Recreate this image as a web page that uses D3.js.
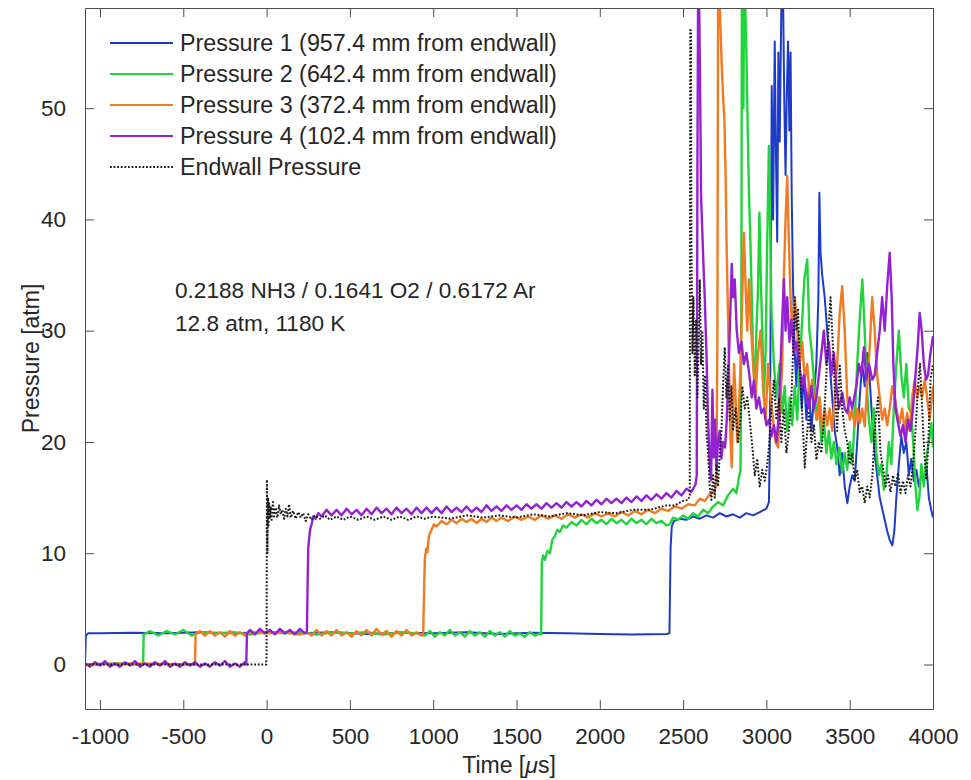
<!DOCTYPE html>
<html>
<head>
<meta charset="utf-8">
<script src="https://cdn.jsdelivr.net/npm/d3@7"></script>
<style>
  body { margin: 0; background: #fff; }
  text { font-family: "Liberation Sans", Arial, sans-serif; fill: #262626; }
</style>
</head>
<body>
<div id="chart"></div>
<script>
// [time in microseconds, pressure in atm]
var p1 = [[-1090,0],[-1085,2.6],[-1070,2.8],[-1000,2.8],[-800,2.85],[-600,2.8],[-400,2.9],[-200,2.8],[0,2.9],[200,2.8],[400,2.9],[600,2.75],[800,2.85],[1000,2.8],[1200,2.9],[1400,2.75],[1600,2.85],[1800,2.8],[2000,2.75],[2200,2.7],[2400,2.75],[2418,2.8],
  [2425,10.5],[2432,12.4],[2445,12.9],[2480,13.1],[2520,13.0],[2560,13.3],[2600,13.1],[2640,13.4],[2680,13.2],[2720,13.6],[2760,13.3],[2800,13.5],[2840,13.2],[2880,13.6],[2920,13.4],[2960,13.7],[3000,14.0],[3015,14.6],
  [3020,19],[3025,30],[3032,52],[3040,40],[3050,56],[3058,45],[3065,38],[3072,55],[3080,47],[3090,59.5],[3100,60],[3108,50],[3115,44],[3122,51],[3130,56],[3138,48],[3145,55],[3152,42],[3160,34],[3170,28],[3180,25],[3190,30],[3200,27],[3212,23],[3225,26],[3240,22],[3255,25],[3270,21],[3285,24],
  [3300,27],[3312,33],[3318,42.4],[3325,37],[3335,35],[3350,33],[3365,30],[3380,27],[3395,24],[3410,21],[3425,19.5],[3440,17],[3455,19],[3470,16],[3486,14.5],[3500,16],[3515,17],[3530,16.5],[3545,20],[3560,24],[3575,27],[3590,25],[3605,28],[3620,25.6],[3635,22],[3650,19],[3665,17],[3680,15],[3695,14],[3710,13],[3725,12],[3740,11.2],[3756,10.7],[3768,12],[3780,15],[3795,18],[3810,20.5],[3825,19],[3840,20],[3855,17],[3870,18.5],[3885,16.5],[3900,17.5],[3915,16],[3930,17],[3945,16.5],[3960,18],[3975,15],[3988,14],[4000,13.2]];

var p2 = [[-1090,0],[-900,0.1],[-741,0],[-738,2.7],[-700,3.0],[-650,2.6],[-600,3.0],[-550,2.7],[-500,3.1],[-450,2.6],[-400,2.9],[-300,2.8],[-200,2.9],[-100,2.7],[0,2.9],[100,2.8],[200,2.9],[300,2.7],[400,2.9],[500,2.8],[600,2.9],[700,2.7],[800,2.9],[900,2.8],
  [950,2.6],[980,3.0],[1010,2.5],[1040,2.9],[1070,2.6],[1100,3.1],[1130,2.6],[1160,2.9],[1190,2.5],[1220,3.0],[1250,2.6],[1280,2.9],[1310,2.5],[1340,3.0],[1370,2.6],[1400,2.9],[1430,2.5],[1460,3.0],[1490,2.6],[1520,2.8],[1550,2.5],[1580,2.9],[1610,2.6],[1640,2.8],[1648,2.7],
  [1652,9.2],[1660,9.8],[1670,9.4],[1685,10.2],[1700,10.0],[1715,11.2],[1730,11.5],[1745,12.1],[1760,11.9],[1780,12.5],[1800,12.3],[1830,12.8],[1860,12.5],[1890,13.0],[1920,12.6],[1950,13.1],[1980,12.7],[2010,13.0],[2040,12.6],[2070,13.1],[2100,12.7],[2130,13.0],[2160,12.6],[2190,13.1],[2220,12.7],[2250,13.0],[2280,12.6],[2310,13.1],[2340,12.7],[2370,12.9],[2400,12.5],[2420,12.6],[2440,13.2],[2470,13.0],[2500,13.4],[2530,13.1],[2560,13.6],[2590,13.3],[2620,13.9],[2650,13.6],[2680,14.2],[2710,14.6],[2740,14.3],[2770,15.2],[2800,15.8],[2820,15.4],[2835,16.8],[2845,17.5],
  [2850,35],[2853,60],[2858,60],[2862,50],[2866,60],[2872,60],[2880,55],[2888,48],[2896,42],[2904,38],[2912,33],[2920,28],[2930,24],[2940,30],[2950,34],[2958,40.6],[2966,35],[2975,30],[2985,24],[2995,28],[3005,38],[3015,46.6],[3022,40],[3030,32],[3045,27],[3060,24],[3078,27],[3095,22.6],[3110,25],[3125,21],[3140,24],[3155,21.5],[3170,25],[3185,22],[3200,27],[3215,31],[3228,34.6],[3245,36.4],[3258,30],[3270,28.5],[3285,25.6],[3300,22],[3315,24],[3330,20],[3345,22],[3360,19],[3375,21],[3390,18.5],[3405,20],[3420,18],[3438,19.5],[3455,17.2],[3470,19],[3485,17.5],[3500,20],[3515,18],[3530,22],[3545,27],[3560,31],[3576,34.6],[3590,30],[3600,25.6],[3615,22],[3630,20],[3645,23],[3660,19],[3675,17],[3690,18],[3705,15.7],[3720,17],[3735,20],[3750,18],[3765,23],[3780,27],[3795,30],[3810,26],[3825,24],[3840,27],[3855,23],[3870,22.6],[3885,19],[3895,16],[3906,13.9],[3918,15],[3930,18],[3945,16],[3960,18.5],[3975,20],[3990,21.7],[4000,19.5]];

var p3 = [[-1090,0],[-800,0.1],[-430,0],[-426,2.7],[-400,3.0],[-370,2.6],[-340,3.0],[-310,2.6],[-280,2.9],[-250,2.5],[-220,3.0],[-190,2.6],[-160,2.9],[-130,2.6],[-100,2.9],[0,2.8],[100,2.9],[200,2.7],[240,2.9],[270,2.6],[300,3.1],[330,2.6],[360,3.0],[390,2.6],[420,3.1],[450,2.6],[480,2.9],[510,2.5],[540,3.0],[570,2.6],[600,3.1],[630,2.6],[660,3.2],[690,2.7],[720,3.0],[750,2.5],[780,3.0],[810,2.6],[840,3.1],[870,2.6],[900,2.9],[930,2.6],[940,2.8],
  [945,6.5],[950,9.5],[958,10.4],[965,10.1],[975,11.6],[990,12.1],[1005,12.6],[1020,12.4],[1050,12.9],[1080,12.6],[1110,13.0],[1140,12.7],[1170,13.1],[1200,12.8],[1230,13.1],[1260,12.7],[1290,13.1],[1320,12.8],[1350,13.2],[1380,12.9],[1410,13.2],[1450,12.9],[1490,13.3],[1530,13.0],[1570,13.3],[1610,13.0],[1650,13.4],[1690,13.1],[1730,13.4],[1770,13.1],[1810,13.5],[1850,13.2],[1890,13.5],[1930,13.2],[1970,13.6],[2010,13.3],[2050,13.6],[2090,13.3],[2130,13.7],[2170,13.4],[2210,13.8],[2250,13.5],[2290,13.9],[2330,13.6],[2370,14.0],[2410,13.8],[2450,14.2],[2490,14.0],[2530,14.4],[2570,14.3],[2600,14.9],[2630,14.7],[2660,15.3],[2690,15.6],[2700,16.4],
  [2706,30],[2710,60],[2718,60],[2725,57],[2732,53.8],[2740,51],[2748,49],[2755,44],[2762,37],[2770,31],[2778,25],[2785,20],[2792,17.7],[2798,22],[2806,27],[2815,24],[2825,20],[2835,23],[2845,27],[2855,33],[2865,38.8],[2875,34],[2885,30],[2895,34.6],[2905,31],[2920,27],[2935,24],[2950,28],[2965,30],[2980,25],[2995,22],[3010,27],[3025,24],[3040,22],[3055,20],[3070,19.5],[3082,23],[3095,27],[3105,35],[3115,40],[3125,43.9],[3135,38],[3145,33],[3155,30],[3170,33],[3185,30],[3200,27],[3215,29],[3230,25.6],[3245,27],[3260,24],[3275,25.6],[3290,23],[3305,22],[3320,24],[3335,21],[3350,23],[3365,21.5],[3380,23],[3395,21],[3410,24],[3425,27],[3440,31.6],[3455,34],[3470,30],[3485,24],[3500,22],[3515,23],[3530,21.4],[3545,23],[3560,21.7],[3575,23],[3590,21.4],[3605,25],[3620,28.5],[3635,33],[3650,30],[3665,26],[3680,24],[3695,22],[3710,23],[3725,21.5],[3740,23],[3755,25],[3770,24],[3785,22.6],[3800,21.7],[3815,23],[3830,21],[3845,22.6],[3860,21],[3875,24],[3890,25.6],[3905,24],[3920,25],[3935,24],[3950,25.6],[3965,24],[3980,22],[4000,25]];

var p4 = [[-1090,0.1],[-1060,-0.2],[-1030,0.2],[-1000,-0.1],[-970,0.3],[-940,-0.2],[-910,0.1],[-880,-0.2],[-850,0.2],[-820,-0.1],[-790,0.3],[-760,-0.2],[-730,0.1],[-700,-0.2],[-670,0.2],[-640,-0.1],[-610,0.3],[-580,-0.2],[-550,0.1],[-520,-0.2],[-490,0.2],[-460,-0.1],[-430,0.2],[-400,-0.2],[-370,0.1],[-340,-0.2],[-310,0.2],[-280,-0.1],[-250,0.3],[-220,-0.2],[-190,0.1],[-160,-0.2],[-130,0.2],[-122,0.0],
  [-118,2.8],[-100,3.1],[-70,2.7],[-40,3.2],[-10,2.8],[20,3.1],[50,2.7],[80,3.2],[110,2.8],[140,3.1],[170,2.7],[200,3.2],[230,2.8],[242,2.9],
  [246,7],[250,10.5],[256,11.4],[262,12.2],[270,12.6],[280,13.3],[295,13.1],[310,13.6],[330,13.3],[360,13.9],[390,13.4],[420,13.9],[450,13.4],[480,14.0],[510,13.5],[540,13.9],[570,13.4],[600,14.0],[630,13.5],[660,14.1],[690,13.6],[720,14.0],[750,13.5],[780,14.1],[810,13.6],[840,14.0],[870,13.5],[900,14.1],[930,13.6],[960,14.1],[990,13.6],[1020,14.1],[1050,13.6],[1080,14.2],[1110,13.7],[1140,14.1],[1170,13.7],[1200,14.2],[1230,13.7],[1260,14.1],[1290,13.7],[1320,14.3],[1350,13.8],[1380,14.2],[1410,13.8],[1440,14.3],[1470,13.9],[1500,14.3],[1530,13.9],[1560,14.4],[1590,14.0],[1620,14.4],[1650,14.0],[1680,14.5],[1710,14.1],[1740,14.5],[1770,14.1],[1800,14.6],[1830,14.2],[1860,14.6],[1890,14.2],[1920,14.7],[1950,14.3],[1980,14.8],[2010,14.4],[2040,14.9],[2070,14.5],[2100,14.9],[2130,14.5],[2160,15.0],[2190,14.6],[2220,15.1],[2250,14.7],[2280,15.2],[2310,14.8],[2340,15.3],[2370,14.9],[2400,15.4],[2430,15.0],[2460,15.6],[2490,15.2],[2520,15.8],[2550,15.5],[2575,16.2],[2582,17],
  [2586,45],[2590,60],[2596,60],[2602,52],[2608,42],[2615,39],[2622,36],[2630,33],[2640,28],[2650,22],[2660,18],[2668,16.6],[2676,24.7],[2684,18.6],[2692,22],[2700,17.5],[2710,20.2],[2720,21],[2730,18.5],[2740,20],[2752,19.5],[2762,22],[2772,26],[2782,31],[2792,36],[2800,33],[2810,34.6],[2822,30],[2835,28],[2850,29],[2865,27],[2880,28],[2898,26],[2912,24],[2925,25.5],[2940,23],[2955,24],[2970,22.6],[2985,23],[3000,21.5],[3015,22],[3030,20.5],[3045,21.5],[3060,20],[3072,22],[3085,27],[3095,31],[3105,34.6],[3115,30],[3125,33],[3138,29],[3150,31],[3165,28],[3180,29],[3198,27],[3210,25],[3225,26],[3240,24],[3255,23],[3270,25],[3285,23],[3300,24],[3315,26],[3330,28],[3345,30],[3360,27],[3375,29],[3390,26],[3405,28],[3420,25],[3435,23],[3456,24.4],[3470,23],[3485,22.6],[3500,24],[3515,23],[3540,25],[3555,27],[3570,26],[3585,28.5],[3600,25.6],[3615,27],[3636,25.6],[3650,26],[3665,28],[3680,30],[3695,33],[3710,30],[3725,34],[3740,37],[3752,33],[3762,27],[3775,23],[3790,21.7],[3805,20.5],[3820,21.5],[3835,20],[3850,22],[3865,21],[3880,23],[3895,26],[3910,29],[3920,31.6],[3932,30],[3945,27],[3958,25.6],[3970,26],[3985,28],[4000,29.5]];

var pEnd = [[-1090,0],[-500,0],[-2,0],[0,1],[2,16.6],[5,10],[8,15],[12,12.5],[16,14.5],[20,13.2],[25,14.2],[30,13.0],[38,14.6],[45,13.3],[55,14.1],[65,13.2],[75,14.3],[85,13.5],[95,13.9],[105,13.1],[115,14.0],[125,13.3],[135,14.4],[145,13.2],[160,13.8],[175,13.1],[190,13.7],[205,13.2],[220,13.6],[235,12.9],[250,13.5],[270,13.0],[290,13.4],[320,13.1],[350,13.4],[380,13.0],[420,13.3],[460,13.0],[500,13.3],[550,13.0],[600,13.3],[650,13.0],[700,13.3],[750,13.0],[800,13.3],[850,13.0],[900,13.3],[950,13.1],[1000,13.3],[1100,13.1],[1200,13.4],[1300,13.2],[1400,13.4],[1500,13.2],[1600,13.5],[1700,13.3],[1800,13.6],[1900,13.4],[2000,13.7],[2100,13.6],[2200,13.9],[2300,13.9],[2400,14.3],[2450,14.3],[2500,14.7],[2530,14.8],[2540,15.2],
  [2543,57],[2547,57],[2550,38],[2556,28],[2562,33],[2570,26],[2578,31],[2586,24],[2594,29],[2600,34.6],[2608,27],[2616,30],[2624,23],[2632,26],[2640,21],[2650,19],[2660,16],[2670,14.8],[2680,17],[2690,15],[2700,18],[2710,16],[2720,19],[2730,21],[2740,25],[2750,28.5],[2760,24],[2770,27],[2780,22],[2790,25],[2800,21],[2815,23],[2830,20],[2845,22],[2856,25],[2870,23],[2885,24],[2900,22],[2916,19.5],[2930,17],[2945,18.5],[2960,16],[2975,17.5],[2990,16.5],[3005,18],[3018,20],[3030,23],[3045,25.6],[3060,22],[3075,24],[3090,20],[3105,23],[3120,19],[3135,21],[3150,24],[3160,28],[3170,33],[3180,30],[3190,32],[3200,27],[3210,24],[3220,21],[3230,17.7],[3240,20],[3255,22.6],[3270,20],[3285,21.5],[3300,18.4],[3315,20],[3330,19],[3345,22],[3360,26],[3372,30],[3385,33],[3398,29],[3410,25],[3425,21],[3440,27],[3455,23],[3470,21],[3485,20],[3500,18],[3515,19],[3530,16.5],[3545,17.5],[3560,15.5],[3575,16],[3590,14.5],[3605,16],[3620,15],[3636,17],[3655,22],[3670,24],[3685,19],[3700,17.7],[3715,16],[3730,17],[3745,15.5],[3760,17],[3775,16],[3790,17.2],[3805,15.4],[3820,16.5],[3835,15.4],[3850,17],[3865,16],[3880,18],[3895,21],[3910,25],[3922,27],[3935,23],[3948,19],[3960,16.6],[3972,20],[3985,25.6],[4000,27]];

var seriesNames = ["Pressure 1 (957.4 mm from endwall)", "Pressure 2 (642.4 mm from endwall)",
                   "Pressure 3 (372.4 mm from endwall)", "Pressure 4 (102.4 mm from endwall)", "Endwall Pressure"];
var seriesColors = ["#1d3bc8", "#22d43c", "#ef7b22", "#9421d2", "#1a1a1a"];
var seriesWidths = [2, 2.4, 2.4, 2.4, 2];
var xTicks = [-1000, -500, 0, 500, 1000, 1500, 2000, 2500, 3000, 3500, 4000];
var yTicks = [0, 10, 20, 30, 40, 50];
var noteLines = ["0.2188 NH3 / 0.1641 O2 / 0.6172 Ar", "12.8 atm, 1180 K"];

var width = 971, height = 780;
var margin = {top: 8, right: 38, bottom: 71, left: 85};
var plotW = width - margin.left - margin.right,
    plotH = height - margin.top - margin.bottom;

var svg = d3.select("#chart").append("svg")
    .attr("width", width)
    .attr("height", height);

var x = d3.scaleLinear().domain([-1090, 4000]).range([0, plotW]);
var y = d3.scaleLinear().domain([-4, 59]).range([plotH, 0]);

var g = svg.append("g")
    .attr("transform", "translate(" + margin.left + "," + margin.top + ")");

g.append("clipPath").attr("id", "clip")
  .append("rect").attr("width", plotW).attr("height", plotH);

var line = d3.line()
    .x(function(d) { return x(d[0]); })
    .y(function(d) { return y(d[1]); });

var allSeries = [p1, p2, p3, p4, pEnd];
var lines = g.append("g").attr("clip-path", "url(#clip)");
allSeries.forEach(function(s, i) {
    lines.append("path")
        .datum(s)
        .attr("fill", "none")
        .attr("stroke", seriesColors[i])
        .attr("stroke-width", seriesWidths[i])
        .attr("stroke-linejoin", "round")
        .attr("stroke-dasharray", i == 4 ? "1.8,1.8" : null)
        .attr("d", line);
});

// box axes, ticks pointing inwards
var tickLen = 9;
var axisColor = "#4d4d4d";
var plain = function(d) { return String(d); };
g.append("g").attr("transform", "translate(0," + plotH + ")")
    .call(d3.axisBottom(x).tickValues(xTicks).tickFormat(plain).tickSizeInner(-tickLen).tickSizeOuter(0).tickPadding(19));
g.append("g")
    .call(d3.axisTop(x).tickValues(xTicks).tickSizeInner(-tickLen).tickSizeOuter(0).tickFormat(""));
g.append("g")
    .call(d3.axisLeft(y).tickValues(yTicks).tickFormat(plain).tickSizeInner(-tickLen).tickSizeOuter(0).tickPadding(19));
g.append("g").attr("transform", "translate(" + plotW + ",0)")
    .call(d3.axisRight(y).tickValues(yTicks).tickSizeInner(-tickLen).tickSizeOuter(0).tickFormat(""));

g.selectAll(".domain").attr("stroke", axisColor);
g.selectAll(".tick line").attr("stroke", axisColor);
g.selectAll(".tick text")
    .style("font-family", "'Liberation Sans', Arial, sans-serif")
    .style("font-size", "22.5px")
    .attr("fill", "#262626");

// legend
var legend = g.append("g").attr("transform", "translate(25,35)");
seriesNames.forEach(function(name, i) {
    var row = legend.append("g").attr("transform", "translate(0," + (i * 31) + ")");
    row.append("line")
        .attr("x1", 0).attr("x2", 63)
        .attr("stroke", seriesColors[i])
        .attr("stroke-width", 2)
        .attr("stroke-dasharray", i == 4 ? "1.8,1.8" : null);
    row.append("text")
        .attr("x", 70).attr("dy", "0.35em")
        .style("font-size", "23.3px")
        .text(name);
});

// annotation
noteLines.forEach(function(t, i) {
    g.append("text")
        .attr("x", 90).attr("y", 282 + i * 33)
        .attr("dy", "0.35em")
        .style("font-size", "22.6px")
        .text(t);
});

// axis titles
var xLabel = svg.append("text")
    .attr("x", margin.left + plotW / 2)
    .attr("y", 773)
    .attr("text-anchor", "middle")
    .style("font-size", "23px");
xLabel.append("tspan").text("Time [");
xLabel.append("tspan").style("font-style", "italic").text("\u03bc");
xLabel.append("tspan").text("s]");

svg.append("text")
    .attr("transform", "translate(31," + (margin.top + plotH / 2) + ") rotate(-90)")
    .attr("text-anchor", "middle")
    .attr("dy", "0.35em")
    .style("font-size", "23px")
    .text("Pressure [atm]");
</script>
</body>
</html>
